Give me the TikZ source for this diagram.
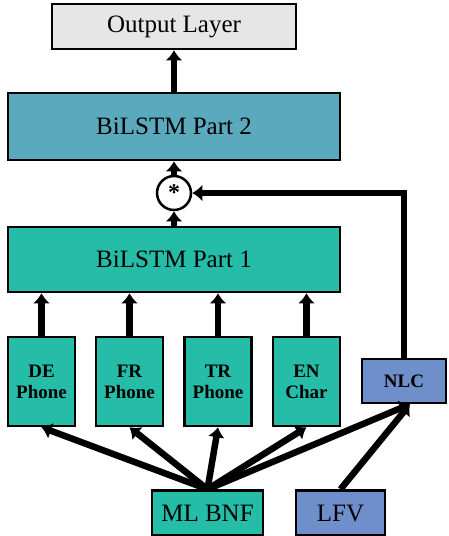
\documentclass[tikz,border=0pt]{standalone}
\usepackage{fontspec}
\setmainfont{Liberation Serif}
\usetikzlibrary{arrows.meta}
\definecolor{greybox}{HTML}{E6E6E6}
\definecolor{lstmblue}{HTML}{5BA9BD}
\definecolor{teal}{HTML}{25BCA8}
\definecolor{featblue}{HTML}{6E8FCA}

\begin{document}
\begin{tikzpicture}[x=1pt,y=1pt]
	\tikzstyle{layer}=[rectangle, draw=black, line width=2.5pt, inner sep=0pt, font=\fontsize{25}{30}\selectfont]
	\tikzstyle{task}=[layer, fill=teal, minimum width=67pt, minimum height=89pt, align=center, font=\fontsize{19}{21}\selectfont\bfseries]
	\tikzstyle{mult}=[circle, draw=black, line width=2.5pt, fill=white, minimum size=34pt, inner sep=0pt, font=\fontsize{24}{24}\selectfont\bfseries]
	\tikzstyle{connect}=[-{Latex[length=10pt,width=17pt]}, line width=6.5pt]
	\useasboundingbox (0,0) rectangle (448,-536);
	  \node[layer, fill=greybox, minimum width=244pt, minimum height=45pt] (out) at (174,-26.5) {Output Layer};
	  \node[layer, fill=lstmblue, minimum width=332pt, minimum height=67pt] (lstm2) at (174,-126.5) {BiLSTM Part 2};
	  \node[mult] (prod) at (174,-193) {\raisebox{-5pt}{*}};
	  \node[layer, fill=teal, minimum width=332pt, minimum height=65pt] (lstm1) at (174,-259.5) {BiLSTM Part 1};
	  \node[task] (de) at (41.5,-381.5) {DE\\Phone};
	  \node[task] (fr) at (129.5,-381.5) {FR\\Phone};
	  \node[task] (tr) at (218,-381.5) {TR\\Phone};
	  \node[task] (en) at (306.5,-381.5) {EN\\Char};
	  \node[layer, fill=featblue, minimum width=84pt, minimum height=44pt, font=\fontsize{19}{21}\selectfont\bfseries] (nlc) at (404,-381) {NLC};
	  \node[layer, fill=teal, minimum width=111pt, minimum height=45pt] (bnf) at (207.5,-513) {ML BNF};
	  \node[layer, fill=featblue, minimum width=89pt, minimum height=45pt] (lfv) at (340.5,-513) {LFV};
	  \path
	    (bnf.north) edge [connect] (de.south)
	    	edge [connect] (fr.south)
	    	edge [connect] (tr.south)
	    	edge [connect] (en.south)
	    	edge [connect] ([xshift=6pt]nlc.south)
	    (lfv.north) edge [connect] ([xshift=6pt]nlc.south)
	    (de) edge [connect] (de |- lstm1.south)
	    (fr) edge [connect] (fr |- lstm1.south)
	    (tr) edge [connect] (tr |- lstm1.south)
	    (en) edge [connect] (en |- lstm1.south)
	    (lstm1) edge [connect] (prod)
	    (prod) edge [connect] (lstm2)
	    (lstm2) edge [connect] (out);
	  \draw[connect] (nlc.north) |- (prod.east);
	\end{tikzpicture}
\end{document}
